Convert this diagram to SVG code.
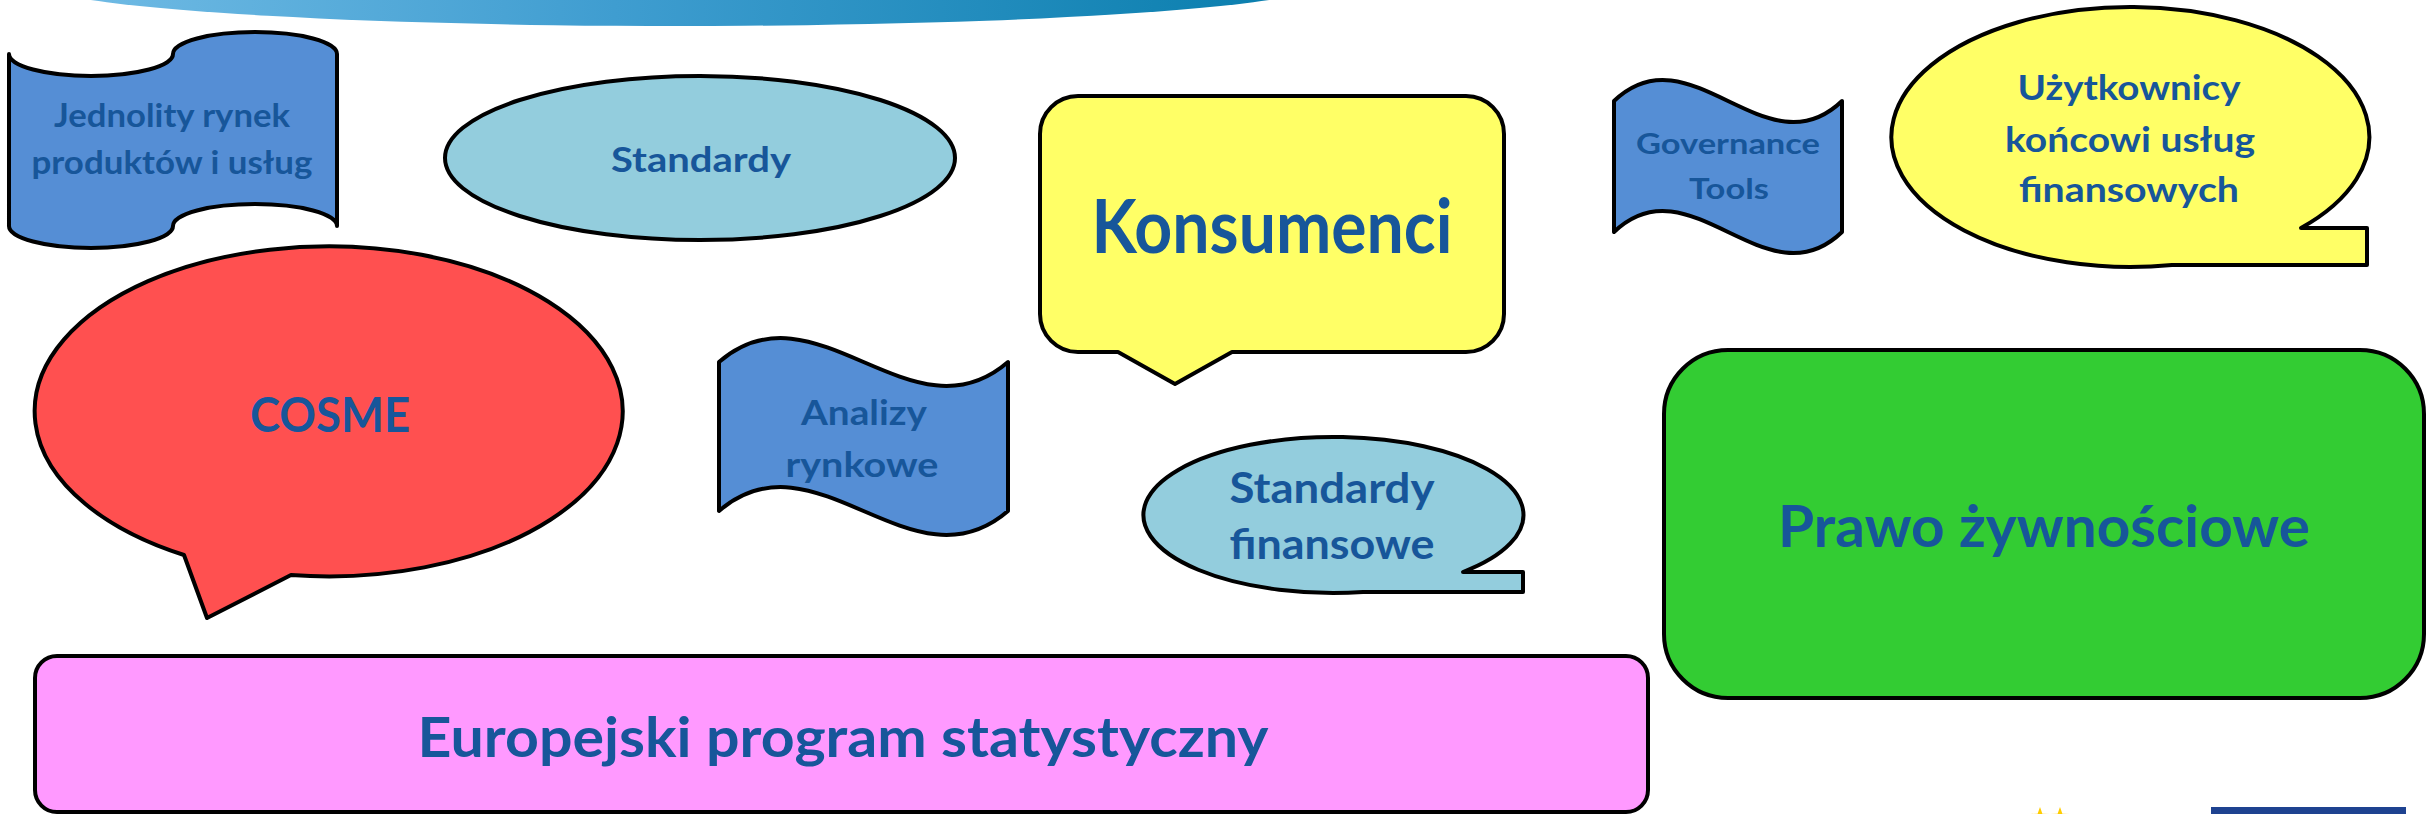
<svg xmlns="http://www.w3.org/2000/svg" width="2427" height="814" viewBox="0 0 2427 814">
<defs>
<linearGradient id="banner" x1="0" y1="0" x2="1" y2="0">
<stop offset="0" stop-color="#74bde6"/>
<stop offset="0.45" stop-color="#3f9dd0"/>
<stop offset="1" stop-color="#067cab"/>
</linearGradient>
<style>
.s{stroke:#000;stroke-width:4;stroke-linejoin:round}
.blue{fill:#558ed5}
.lblue{fill:#93cddd}
.yel{fill:#ffff66}
.red{fill:#ff5050}
.grn{fill:#33cc33}
.pink{fill:#ff99ff}
.t{font-family:Lato,"Liberation Sans",sans-serif;font-weight:700;fill:#17569a;text-anchor:middle}
</style>
</defs>
<rect width="2427" height="814" fill="#fff"/>
<g id="banner-top">
<ellipse cx="680" cy="-19" rx="650" ry="45" fill="url(#banner)"/>
</g>
<g id="connectors"/>
<g id="node-jednolity">
<path class="s blue" d="M9,54 A82,22 0 0 0 173,54 A82,22 0 0 1 337,54 L337,226 A82,22 0 0 0 173,226 A82,22 0 0 1 9,226 Z"/>
<text class="t" x="172" y="127" font-size="32" textLength="236" lengthAdjust="spacingAndGlyphs">Jednolity rynek</text>
<text class="t" x="172" y="174" font-size="32" textLength="281" lengthAdjust="spacingAndGlyphs">produktów i usług</text>
</g>
<g id="node-standardy">
<ellipse class="s lblue" cx="700" cy="158" rx="255" ry="82"/>
<text class="t" x="701" y="172" font-size="35" textLength="180" lengthAdjust="spacingAndGlyphs">Standardy</text>
</g>
<g id="node-konsumenci">
<path class="s yel" d="M1078,96 H1466 A38,38 0 0 1 1504,134 V314 A38,38 0 0 1 1466,352 H1232 L1175,384 L1118,352 H1078 A38,38 0 0 1 1040,314 V134 A38,38 0 0 1 1078,96 Z"/>
<text class="t" x="1272" y="253" font-size="74" textLength="361" lengthAdjust="spacingAndGlyphs">Konsumenci</text>
</g>
<g id="node-governance">
<path class="s blue" d="M1614,101 C1690,28 1766,174 1842,101 L1842,232 C1766,305 1690,159 1614,232 Z"/>
<text class="t" x="1728" y="154" font-size="29" textLength="184" lengthAdjust="spacingAndGlyphs">Governance</text>
<text class="t" x="1729" y="199" font-size="29" textLength="80" lengthAdjust="spacingAndGlyphs">Tools</text>
</g>
<g id="node-uzytkownicy">
<path class="s yel" d="M2301,228 A239,130 0 1 0 2172,265 L2367,265 L2367,228 Z"/>
<text class="t" x="2129" y="100" font-size="35" textLength="223" lengthAdjust="spacingAndGlyphs">Użytkownicy</text>
<text class="t" x="2130" y="152" font-size="35" textLength="250" lengthAdjust="spacingAndGlyphs">końcowi usług</text>
<text class="t" x="2129" y="202" font-size="35" textLength="220" lengthAdjust="spacingAndGlyphs">finansowych</text>
</g>
<g id="node-cosme">
<path class="s red" d="M291,575 A294,165 0 1 0 184,555 L207,618 Z"/>
<text class="t" x="330" y="432" font-size="47" textLength="160" lengthAdjust="spacingAndGlyphs">COSME</text>
</g>
<g id="node-analizy">
<path class="s blue" d="M719,362 C815,279 912,445 1008,362 L1008,511 C912,594 815,428 719,511 Z"/>
<text class="t" x="864" y="425" font-size="35" textLength="126" lengthAdjust="spacingAndGlyphs">Analizy</text>
<text class="t" x="862" y="477" font-size="35" textLength="153" lengthAdjust="spacingAndGlyphs">rynkowe</text>
</g>
<g id="node-standardy-finansowe">
<path class="s lblue" d="M1463,572 A190,78 0 1 0 1363,592 L1523,592 L1523,572 Z"/>
<text class="t" x="1332" y="503" font-size="42" textLength="205" lengthAdjust="spacingAndGlyphs">Standardy</text>
<text class="t" x="1332" y="559" font-size="42" textLength="205" lengthAdjust="spacingAndGlyphs">finansowe</text>
</g>
<g id="node-prawo">
<rect class="s grn" x="1664" y="350" width="760" height="348" rx="64" ry="64"/>
<text class="t" x="2044" y="547" font-size="58" textLength="532" lengthAdjust="spacingAndGlyphs">Prawo żywnościowe</text>
</g>
<g id="node-europejski">
<rect class="s pink" x="35" y="656" width="1613" height="156" rx="22" ry="22"/>
<text class="t" x="843" y="757" font-size="56" textLength="851" lengthAdjust="spacingAndGlyphs">Europejski program statystyczny</text>
</g>
<g id="logo-fragments">
<polygon fill="#ffcc00" points="2040,807 2042.4,813.8 2049.5,813.9 2043.8,818.2 2045.9,825.1 2040,821 2034.1,825.1 2036.2,818.2 2030.5,813.9 2037.6,813.8"/>
<polygon fill="#ffcc00" points="2060,807 2062.4,813.8 2069.5,813.9 2063.8,818.2 2065.9,825.1 2060,821 2054.1,825.1 2056.2,818.2 2050.5,813.9 2057.6,813.8"/>
<rect x="2211" y="807" width="195" height="10" fill="#1e4290"/>
</g>
</svg>
